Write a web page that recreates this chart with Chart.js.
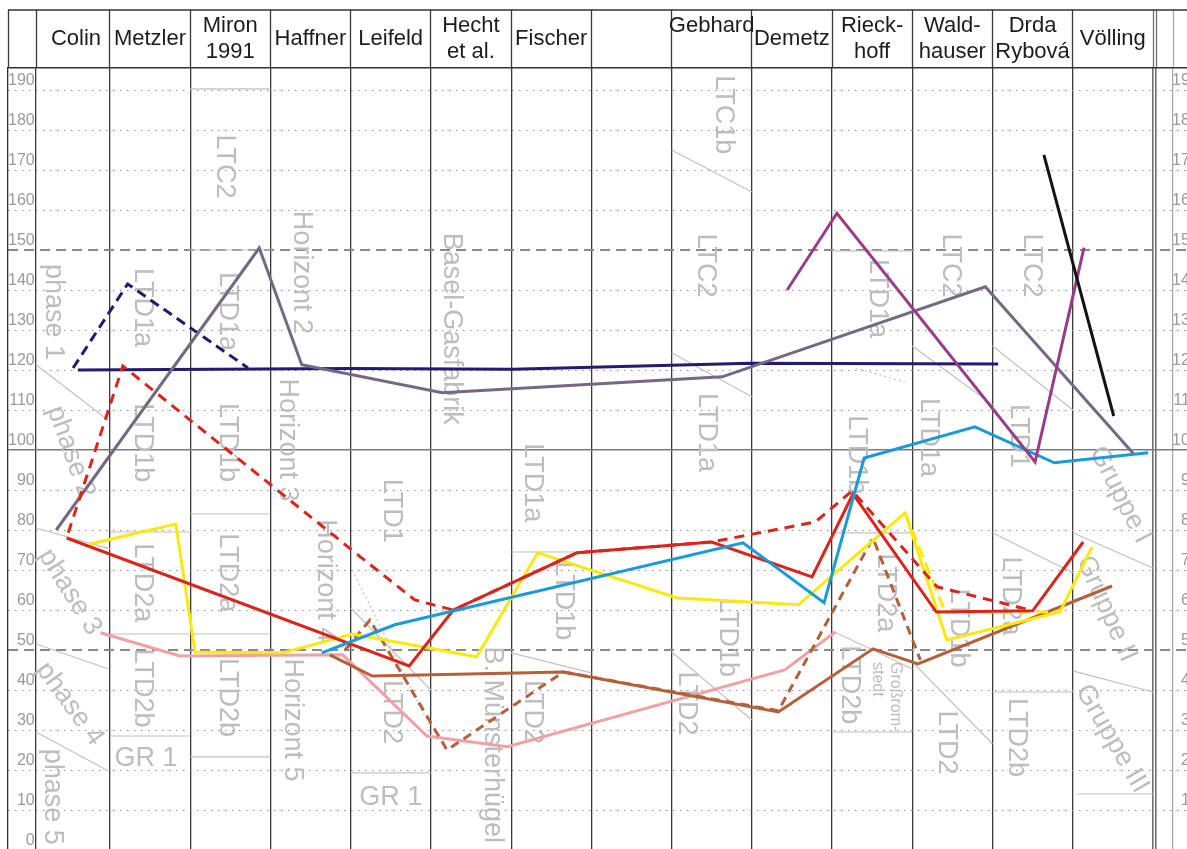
<!DOCTYPE html>
<html>
<head>
<meta charset="utf-8">
<title>Chronologie</title>
<script src="https://cdn.jsdelivr.net/npm/chart.js@4.4.1/dist/chart.umd.min.js"></script>
<style>
  html, body { margin: 0; padding: 0; background: #fff; overflow: hidden; }
  canvas { display: block; }
</style>
</head>
<body>
<canvas id="chart" width="1187" height="851"></canvas>
<script>
// column headers, one per author
const authors = [['Colin'], ['Metzler'], ['Miron', '1991'], ['Haffner'], ['Leifeld'], ['Hecht', 'et al.'],
  ['Fischer'], [''], ['Gebhard', ''], ['Demetz'], ['Rieck-', 'hoff'], ['Wald-', 'hauser'], ['Drda', 'Rybová'], ['Völling']];

// y tick labels
const yTicks = [0, 10, 20, 30, 40, 50, 60, 70, 80, 90, 100, 110, 120, 130, 140, 150, 160, 170, 180, 190];

// series: x in column units (column n runs from n to n+1), y on the 0-190 scale
const navyX = [0.60, 3.99, 6.02, 8.98, 12.07];
const navyY = [120, 120.4, 120.2, 121.7, 121.5];
const navyDashX = [0.54, 1.22, 2.72];
const navyDashY = [120.5, 141.5, 120.5];
const slateX = [0.33, 2.86, 3.39, 5.14, 8.63, 11.91, 13.76];
const slateY = [80, 150.5, 121.3, 114.3, 118.3, 140.8, 99];
const purpleX = [9.44, 10.06, 12.53, 13.14];
const purpleY = [140, 159.2, 97, 150.6];
const blackX = [12.64, 13.51];
const blackY = [173.8, 108.5];
const blueX = [3.64, 4.55, 8.89, 9.90, 10.40, 11.78, 12.77, 13.94];
const blueY = [49.3, 56.3, 76.8, 61.8, 98, 105.8, 96.8, 99.3];
const redX = [0.46, 4.73, 5.28, 6.82, 8.50, 9.75, 10.26, 11.30, 12.50, 13.13];
const redY = [78, 46, 60, 74.3, 77, 68.3, 89, 59.5, 59.8, 77];
const redDashX = [0.48, 1.16, 4.12, 4.80, 5.28, 6.82, 8.50, 9.79, 10.25, 11.31, 12.47];
const redDashY = [79.3, 121, 73.3, 62.5, 60, 74.3, 77, 82, 89.8, 65.8, 60];
const yellowX = [0.75, 1.82, 2.06, 3.16, 4.02, 5.57, 6.33, 8.07, 9.58, 10.91, 11.43, 12.84, 13.24];
const yellowY = [76.5, 81.5, 49.5, 49.3, 54, 48.3, 74.3, 63, 61.3, 84.3, 52.5, 59.5, 75.8];
const yellowDashX = [10.91, 11.41, 12.84];
const yellowDashY = [84.3, 59.5, 59.5];
const pinkX = [0.88, 1.87, 3.90, 4.95, 5.95, 9.41, 10.04];
const pinkY = [54.3, 48.5, 48.8, 28.5, 25.8, 45, 54.5];
const brownX = [3.74, 4.27, 6.65, 9.33, 10.51, 11.07, 13.49];
const brownY = [48.8, 43.5, 44.5, 34.5, 50.3, 46.5, 66];
const brownDashX = [3.93, 4.24, 5.20, 6.65, 9.33, 10.51, 11.10];
const brownDashY = [50, 57.5, 25, 44.5, 34.8, 78, 47.5];

// grey phase boundaries [x1, y1, x2, y2] and phase names [text, x, y, angle, size, align]
const zoneLines = [
  [0.078, 121.3, 0.975, 107.5], [0.078, 80.5, 1, 75.3], [0.078, 51.5, 0.975, 45.3], [0.078, 29.5, 0.975, 19.8],
  [1, 79.5, 2, 79.5], [1, 54, 3, 54], [1, 28.5, 2, 28.5],
  [2, 190.3, 3, 190.3], [2, 150, 3, 150], [2, 84, 3, 84], [2, 23.3, 3, 23.3],
  [4, 60.5, 5, 40], [4, 19.3, 5, 19.3],
  [6, 74.5, 7, 74.5], [6, 49.3, 7, 44.3],
  [8, 175, 9, 164.5], [8, 124.3, 9, 113.3], [8, 49.5, 9, 32.5],
  [10, 149.8, 11, 149.8], [10, 79.3, 11, 79.3], [10, 54.8, 11, 45.3], [10, 29.5, 11, 29.5],
  [11, 126, 12, 111.3], [11, 47, 12, 26.5],
  [12, 126, 13, 110], [12, 79.3, 13, 69.3], [12, 39.5, 13, 39.5],
  [13, 79.3, 14, 70.5], [13, 44.8, 14, 39.5], [13.05, 14, 14, 14]
];
const zoneDots = [[4.02, 70, 4.99, 30.8], [10.29, 120.5, 10.91, 117]];
const zoneTexts = [
  ['phase 1', 0.29, 134.5, 90], ['phase 2', 0.51, 99.5, 70], ['phase 3', 0.50, 64.5, 58],
  ['phase 4', 0.50, 36.5, 54], ['phase 5', 0.28, 13.3, 90],
  ['LTD1a', 1.41, 135.6, 90], ['LTD1b', 1.41, 101.8, 90], ['LTD2a', 1.40, 66.8, 90], ['LTD2b', 1.40, 40.5, 90], ['GR 1', 1.45, 22.8, 0],
  ['LTC2', 2.43, 170.9, 90], ['LTD1a', 2.47, 134.6, 90], ['LTD1b', 2.47, 101.9, 90], ['LTD2a', 2.47, 69.3, 90], ['LTD2b', 2.47, 38.1, 90],
  ['Horizont 2', 3.39, 144.4, 90], ['Horizont 3', 3.21, 102.5, 90], ['Horizont 4', 3.68, 67.3, 90], ['Horizont 5', 3.27, 32.5, 90],
  ['LTD1', 4.51, 84.8, 90], ['LTD2', 4.51, 34.5, 90], ['GR 1', 4.50, 13, 0],
  ['Basel-Gasfabrik', 5.26, 130.3, 90], ['B. Münsterhügel', 5.77, 26.3, 90],
  ['LTD1a', 6.27, 91.8, 90], ['LTD1b', 6.65, 62.3, 90], ['LTD2', 6.27, 34.5, 90],
  ['LTC1b', 8.64, 183.8, 90], ['LTC2', 8.42, 146.1, 90], ['LTD1a', 8.44, 104.4, 90], ['LTD1b', 8.70, 53.1, 90], ['LTD2', 8.19, 36.6, 90],
  ['LTD1a', 10.56, 137.9, 90], ['LTD1b', 10.31, 98.8, 90], ['LTD2a', 10.66, 64.3, 90], ['LTD2b', 10.22, 41.3, 90],
  ['Großrom-', 10.79, 47, 90, 16, 'left'], ['stedt', 10.56, 47, 90, 16, 'left'],
  ['LTC2', 11.47, 146.1, 90], ['LTD1a', 11.20, 103.1, 90], ['LTD1b', 11.57, 55.5, 90], ['LTD2', 11.43, 26.9, 90],
  ['LTC2', 12.49, 146.1, 90], ['LTD1', 12.32, 103.5, 90], ['LTD2a', 12.22, 63.5, 90], ['LTD2b', 12.30, 28.1, 90],
  ['Gruppe I', 13.59, 88.8, 63], ['Gruppe II', 13.42, 60.3, 66], ['Gruppe III', 13.49, 27.8, 60]
];

const FONT = '"Liberation Sans", Arial, Helvetica, sans-serif';
const X_MIN = -0.2713, X_MAX = 14.4237, Y_MAX = 195.5;
const edges = [0.078, 1, 2, 3, 4, 5, 6, 7, 8, 9, 10, 11, 12, 13, 14, 14.04, 14.25];

function line(xs, ys, color, dash) {
  return {
    data: xs.map((x, i) => ({ x: x, y: ys[i] })),
    borderColor: color,
    borderWidth: 3,
    borderDash: dash || [],
    pointRadius: 0,
    tension: 0,
    fill: false
  };
}

function edgeColor(v) {
  if (v >= 14.2) return '#aaaaaa';
  if (v >= 14) return '#707070';
  return '#3a3a3a';
}

function noSize(s) {
  s.width = 0;
  s.paddingTop = 0;
  s.paddingBottom = 0;
}

// grey phase boundaries and names under the series
const zonePlugin = {
  id: 'zones',
  beforeDatasetsDraw(chart) {
    const { ctx, chartArea: a, scales: { x, y } } = chart;
    ctx.save();
    ctx.beginPath();
    ctx.rect(a.left, a.top, a.right - a.left, a.bottom - a.top);
    ctx.clip();
    ctx.strokeStyle = '#c2c2c2';
    ctx.lineWidth = 1.2;
    zoneLines.forEach(([x1, y1, x2, y2]) => {
      ctx.beginPath();
      ctx.moveTo(x.getPixelForValue(x1), y.getPixelForValue(y1));
      ctx.lineTo(x.getPixelForValue(x2), y.getPixelForValue(y2));
      ctx.stroke();
    });
    ctx.setLineDash([2, 3]);
    zoneDots.forEach(([x1, y1, x2, y2]) => {
      ctx.beginPath();
      ctx.moveTo(x.getPixelForValue(x1), y.getPixelForValue(y1));
      ctx.lineTo(x.getPixelForValue(x2), y.getPixelForValue(y2));
      ctx.stroke();
    });
    ctx.setLineDash([]);
    ctx.fillStyle = '#bdbdbd';
    zoneTexts.forEach(([t, tx, ty, ang, size, align]) => {
      ctx.save();
      ctx.translate(x.getPixelForValue(tx), y.getPixelForValue(ty));
      ctx.rotate(ang * Math.PI / 180);
      ctx.font = (size || 27) + 'px ' + FONT;
      ctx.textAlign = align || 'center';
      ctx.textBaseline = 'middle';
      ctx.fillText(t, 0, 0);
      ctx.restore();
    });
    ctx.restore();
  }
};

// top edge of the header box
const framePlugin = {
  id: 'frame',
  afterDraw(chart) {
    const { ctx, chartArea: a, scales: { xTop } } = chart;
    ctx.save();
    ctx.strokeStyle = '#333';
    ctx.lineWidth = 1.5;
    ctx.beginPath();
    ctx.moveTo(a.left, xTop.top);
    ctx.lineTo(a.right, xTop.top);
    ctx.stroke();
    ctx.restore();
  }
};

new Chart(document.getElementById('chart'), {
  type: 'line',
  data: {
    datasets: [
      line(blackX, blackY, '#141414'),
      line(purpleX, purpleY, '#9a3b88'),
      line(blueX, blueY, '#1b9ad7'),
      line(redX, redY, '#d8261d'),
      line(redDashX, redDashY, '#d8261d', [10, 7]),
      line(yellowX, yellowY, '#f7ea0c'),
      line(yellowDashX, yellowDashY, '#f7ea0c', [12, 6]),
      line(slateX, slateY, '#776882'),
      line(navyX, navyY, '#201c70'),
      line(navyDashX, navyDashY, '#201c70', [10, 6]),
      line(brownX, brownY, '#b4603a'),
      line(brownDashX, brownDashY, '#b4603a', [9, 6]),
      line(pinkX, pinkY, '#efa1a8')
    ]
  },
  options: {
    responsive: false,
    animation: false,
    events: [],
    layout: { padding: { left: 8, top: 10, right: 0, bottom: 1 } },
    plugins: { legend: { display: false }, tooltip: { enabled: false } },
    scales: {
      x: {
        type: 'linear', position: 'bottom', min: X_MIN, max: X_MAX, bounds: 'data',
        afterBuildTicks: s => { s.ticks = edges.map(v => ({ value: v })); },
        afterFit: s => { s.height = 0; s.paddingLeft = 0; s.paddingRight = 0; },
        ticks: { display: false },
        grid: {
          drawTicks: false,
          color: c => edgeColor(c.tick.value),
          lineWidth: c => (c.tick.value >= 14 && c.tick.value < 14.2 ? 1.6 : 1.3)
        },
        border: { display: false }
      },
      xTop: {
        type: 'linear', position: 'top', min: X_MIN, max: X_MAX, bounds: 'data',
        afterBuildTicks: s => { s.ticks = [X_MIN].concat(edges).map(v => ({ value: v })); },
        afterFit: s => { s.height = 58; s.paddingLeft = 0; s.paddingRight = 0; },
        ticks: {
          autoSkip: false, maxRotation: 0, minRotation: 0,
          labelOffset: 40, padding: -42, crossAlign: 'center',
          color: '#1c1c1c', font: { family: FONT, size: 22 },
          callback: (v, i) => authors[i - 1] || ''
        },
        grid: {
          drawOnChartArea: false, drawTicks: true, tickLength: 58,
          tickColor: c => edgeColor(c.tick.value), tickWidth: 1.3
        },
        border: { display: true, color: '#333', width: 1.5 }
      },
      y: {
        type: 'linear', position: 'left', min: 0, max: Y_MAX,
        afterBuildTicks: s => { s.ticks = yTicks.map(v => ({ value: v })); },
        afterFit: noSize,
        ticks: {
          mirror: true, crossAlign: 'far', padding: 0, labelOffset: -9,
          color: '#9a9a9a', font: { family: FONT, size: 16 }
        },
        grid: {
          drawTicks: false, lineWidth: 1,
          color: c => ([50, 100, 150].includes(c.tick.value) ? 'rgba(0,0,0,0)' : '#8e8e8e')
        },
        border: { display: false, dash: [1.5, 5.5] }
      },
      yRight: {
        type: 'linear', position: 'left', min: 0, max: Y_MAX,
        afterBuildTicks: s => { s.ticks = yTicks.map(v => ({ value: v })); },
        afterFit: noSize,
        ticks: {
          mirror: true, crossAlign: 'far', padding: 1164, labelOffset: -9,
          color: '#9a9a9a', font: { family: FONT, size: 16 }
        },
        grid: { display: false },
        border: { display: false }
      },
      yDash: {
        type: 'linear', position: 'left', min: 0, max: Y_MAX,
        afterBuildTicks: s => { s.ticks = [50, 150].map(v => ({ value: v })); },
        afterFit: noSize,
        ticks: { display: false },
        grid: { drawTicks: false, color: '#8a8a8a', lineWidth: 2 },
        border: { display: false, dash: [10, 6] }
      },
      ySolid: {
        type: 'linear', position: 'left', min: 0, max: Y_MAX,
        afterBuildTicks: s => { s.ticks = [{ value: 100 }]; },
        afterFit: noSize,
        ticks: { display: false },
        grid: { drawTicks: false, color: '#7a7a7a', lineWidth: 1.6 },
        border: { display: true, color: '#333', width: 1.3 }
      }
    }
  },
  plugins: [zonePlugin, framePlugin]
});
</script>
</body>
</html>
